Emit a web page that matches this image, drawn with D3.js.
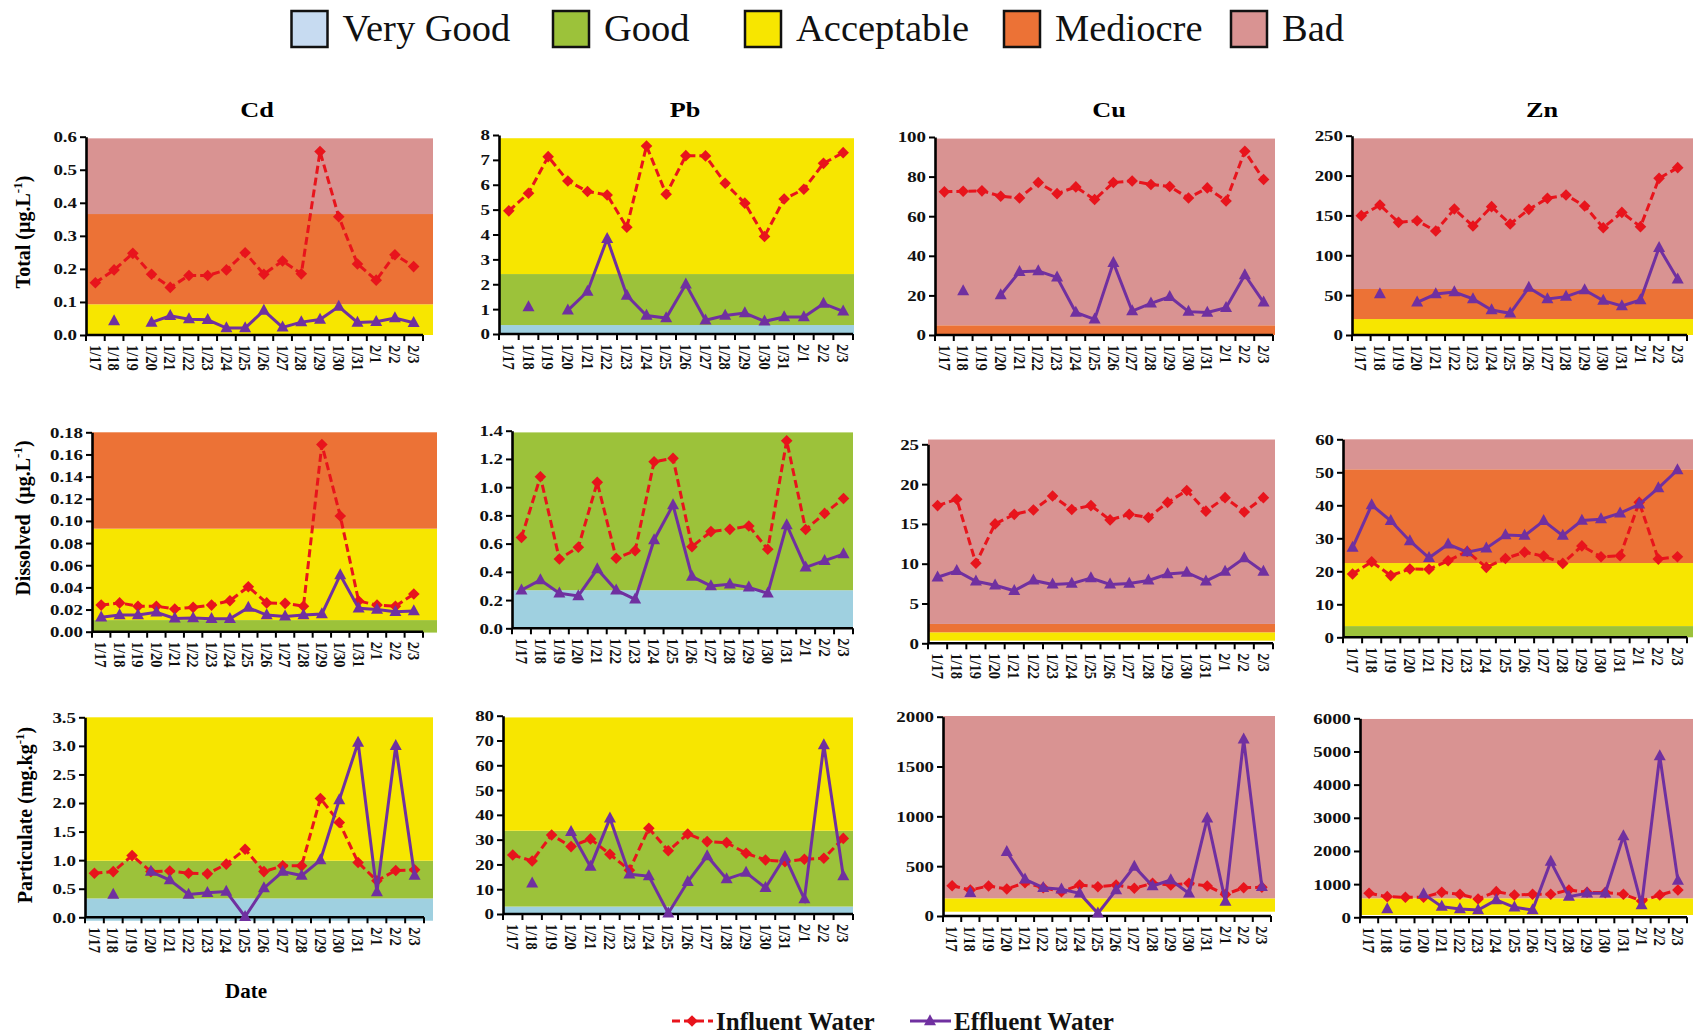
<!doctype html>
<html>
<meta charset="utf-8">
<head>
<script src="https://cdn.jsdelivr.net/npm/d3@7"></script>
<style>
  body { margin: 0; background: #fff; }
  text { font-family: "Liberation Serif", "Times New Roman", serif; }
</style>
</head>
<body>
<script>
var width = 1693, height = 1035;

// ---- data ----
var dates = ["1/17","1/18","1/19","1/20","1/21","1/22","1/23","1/24","1/25","1/26","1/27","1/28","1/29","1/30","1/31","2/1","2/2","2/3"];

var classes = ["Very Good", "Good", "Acceptable", "Mediocre", "Bad"];

var cdTotalInf = [0.158,0.197,0.247,0.184,0.144,0.180,0.180,0.197,0.249,0.184,0.224,0.185,0.555,0.358,0.215,0.166,0.243,0.207];
var cdTotalEff = [null,0.042,null,0.038,0.058,0.048,0.046,0.021,0.021,0.074,0.023,0.039,0.047,0.086,0.038,0.040,0.051,0.037];
var pbTotalInf = [4.95,5.66,7.13,6.15,5.73,5.59,4.29,7.56,5.62,7.17,7.16,6.06,5.26,3.92,5.43,5.82,6.86,7.29];
var pbTotalEff = [null,1.08,null,0.95,1.71,3.83,1.55,0.74,0.64,2.0,0.55,0.74,0.84,0.51,0.68,0.68,1.22,0.91];
var cuTotalInf = [72.3,72.6,72.8,70.1,69.2,77.0,71.4,74.8,68.4,77.0,77.8,76.0,75.0,69.2,74.3,67.7,92.8,78.5];
var cuTotalEff = [null,22.2,null,20.2,31.9,32.3,29.1,11.4,7.9,36.5,12.1,16.0,19.3,11.8,11.4,13.8,30.3,16.5];
var znTotalInf = [149.7,163,141.3,143.4,130.4,158,136.7,161,139.2,157.6,171.4,175.6,161.8,134.6,153.8,135.9,196.5,209.9];
var znTotalEff = [null,51.4,null,41,51.4,53.9,45.2,31.4,27.2,59.4,45.2,48.1,56.4,43.1,36.4,43.9,109.5,69.8];

var cdDisInf = [0.024,0.026,0.023,0.023,0.0205,0.022,0.024,0.028,0.0406,0.026,0.0256,0.023,0.169,0.1045,0.0277,0.024,0.023,0.034];
var cdDisEff = [0.013,0.015,0.015,0.0175,0.012,0.0123,0.0117,0.0117,0.0217,0.015,0.0138,0.015,0.016,0.0512,0.0211,0.020,0.018,0.0187];
var pbDisInf = [0.644,1.074,0.491,0.574,1.034,0.496,0.55,1.18,1.204,0.578,0.685,0.701,0.725,0.56,1.329,0.70,0.814,0.92];
var pbDisEff = [0.27,0.342,0.248,0.229,0.42,0.27,0.205,0.626,0.873,0.366,0.30,0.312,0.29,0.248,0.732,0.432,0.479,0.526];
var cuDisInf = [17.3,18.1,10.05,15.0,16.2,16.75,18.5,16.8,17.3,15.5,16.2,15.8,17.7,19.2,16.6,18.3,16.5,18.3];
var cuDisEff = [8.3,9.1,7.8,7.3,6.6,7.9,7.4,7.5,8.2,7.4,7.5,7.9,8.7,8.9,7.8,9.0,10.7,9.0];
var znDisInf = [19.2,22.9,18.7,20.7,20.6,23.2,26.0,21.2,23.9,25.8,24.6,22.4,27.7,24.4,24.7,40.9,23.7,24.4];
var znDisEff = [27.2,40.1,35.3,29.2,24.1,28.2,25.8,27.0,31.0,30.8,35.3,30.8,35.4,35.8,37.6,40.3,45.2,50.7];

var cdPartInf = [0.77,0.80,1.08,0.80,0.81,0.77,0.76,0.93,1.19,0.80,0.90,0.90,2.08,1.66,0.96,0.64,0.82,0.83];
var cdPartEff = [null,0.40,null,0.80,0.65,0.40,0.43,0.45,0.01,0.51,0.80,0.73,1.00,2.05,3.06,0.44,3.0,0.73];
var pbPartInf = [23.8,21.4,31.9,27.2,30.3,24.1,17.7,34.6,25.5,32.3,29.2,28.8,24.5,21.8,21.1,22.1,22.5,30.5];
var pbPartEff = [null,12.4,null,33.2,19.1,38.6,16.0,15.3,0.3,13.0,23.4,14.1,16.7,10.6,23.1,6.0,68.2,15.3];
var cuPartInf = [304,261,301,271,334,284,244,311,294,311,278,328,311,328,301,217,284,288];
var cuPartEff = [null,234,null,645,368,284,268,227,27,261,495,301,361,227,980,144,1773,294];
var znPartInf = [724,623,603,603,754,693,553,774,673,693,693,824,754,744,693,492,673,824];
var znPartEff = [null,251,null,703,322,251,221,523,302,221,1678,623,724,724,2452,372,4864,1106];

// quality class bands: [class, from, to]
var cdTotalBands = [["Acceptable",0,0.093],["Mediocre",0.093,0.366],["Bad",0.366,0.595]];
var pbTotalBands = [["Very Good",0,0.36],["Good",0.36,2.41],["Acceptable",2.41,7.87]];
var cuTotalBands = [["Mediocre",0,4.9],["Bad",4.9,99.2]];
var znTotalBands = [["Acceptable",0,20],["Mediocre",20,57.7],["Bad",57.7,246.7]];
var cdDisBands = [["Good",-0.0008,0.0105],["Acceptable",0.0105,0.093],["Mediocre",0.093,0.18]];
var pbDisBands = [["Very Good",0,0.27],["Good",0.27,1.388]];
var cuDisBands = [["Acceptable",0.33,1.38],["Mediocre",1.38,2.43],["Bad",2.43,25.6]];
var znDisBands = [["Good",0,3.4],["Acceptable",3.4,22.5],["Mediocre",22.5,50.9],["Bad",50.9,60]];
var cdPartBands = [["Very Good",-0.06,0.33],["Good",0.33,0.99],["Acceptable",0.99,3.5]];
var pbPartBands = [["Very Good",0,3],["Good",3,33.6],["Acceptable",33.6,79.3]];
var cuPartBands = [["Acceptable",43,177],["Bad",177,2007]];
var znPartBands = [["Acceptable",70,573],["Bad",573,5980]];

// y tick labels
var cdTotalTicks = [0,0.1,0.2,0.3,0.4,0.5,0.6];
var pbTotalTicks = [0,1,2,3,4,5,6,7,8];
var cuTotalTicks = [0,20,40,60,80,100];
var znTotalTicks = [0,50,100,150,200,250];
var cdDisTicks = [0,0.02,0.04,0.06,0.08,0.10,0.12,0.14,0.16,0.18];
var pbDisTicks = [0,0.2,0.4,0.6,0.8,1.0,1.2,1.4];
var cuDisTicks = [0,5,10,15,20,25];
var znDisTicks = [0,10,20,30,40,50,60];
var cdPartTicks = [0,0.5,1.0,1.5,2.0,2.5,3.0,3.5];
var pbPartTicks = [0,10,20,30,40,50,60,70,80];
var cuPartTicks = [0,500,1000,1500,2000];
var znPartTicks = [0,1000,2000,3000,4000,5000,6000];

var metals = ["Cd", "Pb", "Cu", "Zn"];
var rowLabels = ["Total (µg.L", "Dissolved  (µg.L", "Particulate (mg.kg"];

// ---- styles ----
var classColor = {
  "Very Good": "#9fd0e0",
  "Good": "#9cc23a",
  "Acceptable": "#f7e600",
  "Mediocre": "#ec7236",
  "Bad": "#d99392"
};
var legendColor = {"Very Good": "#c7dbf1", "Good": "#9cc23a", "Acceptable": "#f7e600", "Mediocre": "#ec7236", "Bad": "#d99392"};
var infColor = "#e8141c", effColor = "#7030a0";
var sx = 1.22; // horizontal stretch of panel text

// panel layout (pixel frame of each plot)
var panels = [
  {x0: 86,  x1: 423,  bgR: 433,  y0: 335,   yT: 136.7, inf: cdTotalInf, eff: cdTotalEff, bands: cdTotalBands, ticks: cdTotalTicks, fmt: ".1f"},
  {x0: 499, x1: 853,  bgR: 854,  y0: 334,   yT: 135,   inf: pbTotalInf, eff: pbTotalEff, bands: pbTotalBands, ticks: pbTotalTicks, fmt: "d"},
  {x0: 935, x1: 1273, bgR: 1275, y0: 335,   yT: 137,   inf: cuTotalInf, eff: cuTotalEff, bands: cuTotalBands, ticks: cuTotalTicks, fmt: "d"},
  {x0: 1352,x1: 1687, bgR: 1693, y0: 335,   yT: 135.7, inf: znTotalInf, eff: znTotalEff, bands: znTotalBands, ticks: znTotalTicks, fmt: "d"},
  {x0: 92,  x1: 423,  bgR: 437,  y0: 631.7, yT: 432.3, inf: cdDisInf, eff: cdDisEff, bands: cdDisBands, ticks: cdDisTicks, fmt: ".2f"},
  {x0: 512, x1: 853,  bgR: 853,  y0: 628.3, yT: 430.7, inf: pbDisInf, eff: pbDisEff, bands: pbDisBands, ticks: pbDisTicks, fmt: ".1f"},
  {x0: 928, x1: 1273, bgR: 1275, y0: 643.3, yT: 444.3, inf: cuDisInf, eff: cuDisEff, bands: cuDisBands, ticks: cuDisTicks, fmt: "d"},
  {x0: 1343,x1: 1687, bgR: 1693, y0: 637.3, yT: 439.3, inf: znDisInf, eff: znDisEff, bands: znDisBands, ticks: znDisTicks, fmt: "d"},
  {x0: 85,  x1: 424,  bgR: 433,  y0: 917.3, yT: 717.3, inf: cdPartInf, eff: cdPartEff, bands: cdPartBands, ticks: cdPartTicks, fmt: ".1f"},
  {x0: 503, x1: 853,  bgR: 853,  y0: 914,   yT: 715.7, inf: pbPartInf, eff: pbPartEff, bands: pbPartBands, ticks: pbPartTicks, fmt: "d"},
  {x0: 943, x1: 1271, bgR: 1275, y0: 916,   yT: 716.7, inf: cuPartInf, eff: cuPartEff, bands: cuPartBands, ticks: cuPartTicks, fmt: "d"},
  {x0: 1360,x1: 1687, bgR: 1693, y0: 917.3, yT: 718.3, inf: znPartInf, eff: znPartEff, bands: znPartBands, ticks: znPartTicks, fmt: "d"}
];
var titleX = [257, 685, 1109, 1542];

var svg = d3.select("body").append("svg")
  .attr("width", width)
  .attr("height", height);

var diamond = "M0,-5.8L5.8,0L0,5.8L-5.8,0Z";
var triangle = "M0,-6.8L6,4.2L-6,4.2Z";

function drawPanel(p) {
  var x = d3.scaleBand().domain(dates).range([p.x0, p.x1]);
  var bw = x.bandwidth();
  var y = d3.scaleLinear().domain([0, p.ticks[p.ticks.length - 1]]).range([p.y0, p.yT]);
  var g = svg.append("g");

  g.selectAll("rect.band").data(p.bands).enter().append("rect")
    .attr("class", "band")
    .attr("x", p.x0)
    .attr("width", p.bgR - p.x0)
    .attr("y", function(d) { return y(d[2]); })
    .attr("height", function(d) { return y(d[1]) - y(d[2]); })
    .attr("fill", function(d) { return classColor[d[0]]; });

  // y axis
  var ya = g.append("g")
    .attr("transform", "translate(" + p.x0 + ",0)")
    .call(d3.axisLeft(y).tickValues(p.ticks).tickFormat(d3.format(p.fmt)).tickSize(6).tickSizeOuter(0));
  ya.select(".domain").attr("stroke", "#000").attr("stroke-width", 2.6);
  ya.selectAll(".tick line").attr("stroke", "#000").attr("stroke-width", 2);
  ya.selectAll(".tick text")
    .attr("x", -9 / sx)
    .attr("transform", "scale(" + sx + ",1)")
    .attr("fill", "#111")
    .style("font-weight", "bold")
    .style("font-size", "15.5px");

  // x axis: ticks between categories, labels rotated
  g.append("line")
    .attr("x1", p.x0).attr("x2", p.x1)
    .attr("y1", p.y0).attr("y2", p.y0)
    .attr("stroke", "#000").attr("stroke-width", 2.6);
  var bounds = dates.map(function(d) { return x(d); }).concat([p.x1]);
  g.selectAll("line.xt").data(bounds).enter().append("line")
    .attr("class", "xt")
    .attr("x1", function(d) { return d; }).attr("x2", function(d) { return d; })
    .attr("y1", p.y0).attr("y2", p.y0 + 6)
    .attr("stroke", "#000").attr("stroke-width", 2);
  g.selectAll("text.xl").data(dates).enter().append("text")
    .attr("class", "xl")
    .attr("transform", function(d) { return "translate(" + (x(d) + bw / 2) + "," + (p.y0 + 10) + ") rotate(90) scale(1,1.15)"; })
    .attr("dy", "0.35em")
    .attr("font-size", 14.5)
    .attr("font-weight", "bold")
    .attr("fill", "#111")
    .text(function(d) { return d; });

  function cx(i) { return x(dates[i]) + bw / 2; }
  var line = d3.line()
    .defined(function(d) { return d != null; })
    .x(function(d, i) { return cx(i); })
    .y(function(d) { return y(d); });

  g.append("path").datum(p.inf)
    .attr("d", line).attr("fill", "none")
    .attr("stroke", infColor).attr("stroke-width", 3)
    .attr("stroke-dasharray", "8,4");
  g.selectAll("path.inf").data(p.inf).enter().append("path")
    .attr("class", "inf")
    .attr("d", diamond)
    .attr("transform", function(d, i) { return "translate(" + cx(i) + "," + y(d) + ")"; })
    .attr("fill", infColor);

  g.append("path").datum(p.eff)
    .attr("d", line).attr("fill", "none")
    .attr("stroke", effColor).attr("stroke-width", 3);
  g.selectAll("path.eff").data(p.eff.map(function(d, i) { return [d, i]; }).filter(function(d) { return d[0] != null; }))
    .enter().append("path")
    .attr("class", "eff")
    .attr("d", triangle)
    .attr("transform", function(d) { return "translate(" + cx(d[1]) + "," + y(d[0]) + ")"; })
    .attr("fill", effColor);
}

panels.forEach(drawPanel);

// metal titles
svg.selectAll("text.title").data(metals).enter().append("text")
  .attr("class", "title")
  .attr("transform", function(d, i) { return "translate(" + titleX[i] + ",117) scale(1.25,1)"; })
  .attr("text-anchor", "middle")
  .attr("font-size", 21)
  .attr("font-weight", "bold")
  .text(function(d) { return d; });

// row labels
var rowPos = [[30, 232], [30, 518], [32, 815]];
rowLabels.forEach(function(lbl, i) {
  var t = svg.append("text")
    .attr("transform", "translate(" + rowPos[i][0] + "," + rowPos[i][1] + ") rotate(-90)")
    .attr("text-anchor", "middle")
    .attr("font-size", 20)
    .attr("font-weight", "bold")
    .style("white-space", "pre");
  t.append("tspan").text(lbl);
  t.append("tspan").attr("font-size", 13).attr("dy", -8).text("-1");
  t.append("tspan").attr("dy", 8).text(")");
});

svg.append("text")
  .attr("x", 246).attr("y", 998)
  .attr("text-anchor", "middle")
  .attr("font-size", 21)
  .attr("font-weight", "bold")
  .text("Date");

// top legend
var legendX = [291.5, 553, 745, 1004, 1231];
var lg = svg.selectAll("g.leg").data(classes).enter().append("g")
  .attr("class", "leg")
  .attr("transform", function(d, i) { return "translate(" + legendX[i] + ",11)"; });
lg.append("rect")
  .attr("width", 36).attr("height", 36)
  .attr("fill", function(d) { return legendColor[d]; })
  .attr("stroke", "#111").attr("stroke-width", 2.5);
lg.append("text")
  .attr("x", 51).attr("y", 30)
  .attr("font-size", 38.5)
  .attr("fill", "#111")
  .text(function(d) { return d; });

// bottom legend
var series = [
  {name: "Influent Water", color: infColor, marker: diamond, dash: "8,4", x: 672},
  {name: "Effluent Water", color: effColor, marker: triangle, dash: null, x: 910}
];
var bl = svg.selectAll("g.bl").data(series).enter().append("g")
  .attr("class", "bl")
  .attr("transform", function(d) { return "translate(" + d.x + ",1021)"; });
bl.append("line")
  .attr("x1", 0).attr("x2", 41)
  .attr("stroke", function(d) { return d.color; })
  .attr("stroke-width", 3)
  .attr("stroke-dasharray", function(d) { return d.dash; });
bl.append("path")
  .attr("d", function(d) { return d.marker; })
  .attr("transform", "translate(20,0)")
  .attr("fill", function(d) { return d.color; });
bl.append("text")
  .attr("x", 44).attr("y", 9)
  .attr("font-size", 25)
  .attr("font-weight", "bold")
  .attr("fill", "#111")
  .text(function(d) { return d.name; });
</script>
</body>
</html>
